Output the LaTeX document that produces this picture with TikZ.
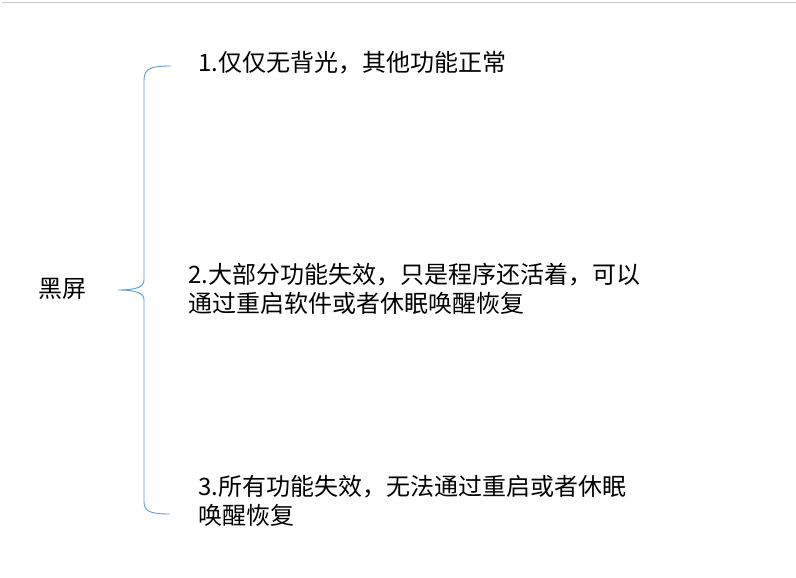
\documentclass[tikz,border=0pt]{standalone}
\usepackage{fontspec}
\setmainfont{Noto Sans CJK SC}
\definecolor{bracecol}{RGB}{91,155,213}
\definecolor{rulecol}{RGB}{200,200,200}
\begin{document}
\begin{tikzpicture}[x=1pt,y=-1pt,
  label/.style={anchor=base west,inner sep=0pt,align=left,font=\fontsize{24}{29}\selectfont,text=black},
  bracestyle/.style={draw=bracecol,line width=0.9pt}]
\useasboundingbox (0,0) rectangle (796,578);
\draw[rulecol,line width=1pt] (2,3) -- (796,3);
\node[label] (root) at (38,297) {黑屏};
\node[label] (i1) at (198,72) {1.仅仅无背光，其他功能正常};
\node[label] (i2) at (188,312) {2.大部分功能失效，只是程序还活着，可以\\通过重启软件或者休眠唤醒恢复};
\node[label] (i3) at (198,524) {3.所有功能失效，无法通过重启或者休眠\\唤醒恢复};
\coordinate (btop) at (171,66);
\coordinate (btip) at (118,290);
\coordinate (bbot) at (170,514);
\draw[bracestyle] (btop) .. controls (152,66) and (144,68) .. (144,80) -- (144,280)
  .. controls (144,287) and (136,290) .. (btip)
  .. controls (136,290) and (144,293) .. (144,300) -- (144,502)
  .. controls (144,512) and (152,514) .. (bbot);
\end{tikzpicture}
\end{document}
